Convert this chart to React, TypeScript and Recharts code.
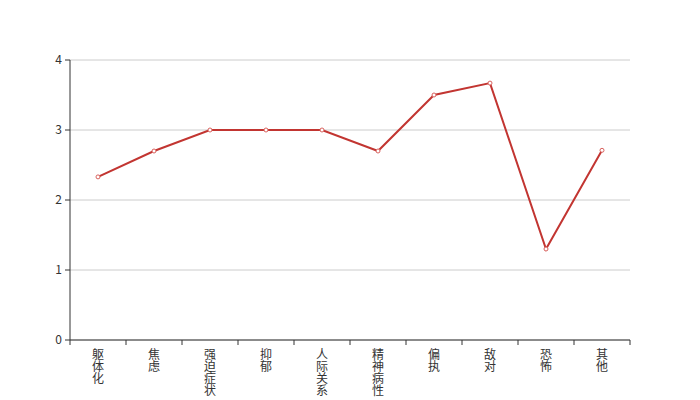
import { LineChart, Line, CartesianGrid, XAxis, YAxis } from "recharts";

const categories = ["躯体化", "焦虑", "强迫症状", "抑郁", "人际关系", "精神病性", "偏执", "敌对", "恐怖", "其他"];
const scores = [2.33, 2.7, 3.0, 3.0, 3.0, 2.7, 3.5, 3.67, 1.3, 2.71];
const yTicks = [0, 1, 2, 3, 4];

const data = categories.map((name, i) => ({ name, value: scores[i] }));

const FONT = "'Noto Sans CJK SC', 'Noto Sans', sans-serif";

const VerticalTick = (props: any) => {
  const { x, y, payload, index } = props;
  const half = payload && payload.offset ? payload.offset : 28;
  const last = index === categories.length - 1;
  return (
    <g>
      <line x1={x - half} y1={y} x2={x - half} y2={y + 5} stroke="#333" />
      {last && <line x1={x + half} y1={y} x2={x + half} y2={y + 5} stroke="#333" />}
      <text
        x={x}
        y={y + 8}
        fill="#333"
        fontSize={12}
        fontFamily={FONT}
        style={{ writingMode: "vertical-rl" }}
      >
        {payload.value}
      </text>
    </g>
  );
};

const App = () => {
  return (
    <div style={{ position: "absolute", left: 0, top: 0, width: 700, height: 400, background: "#fff" }}>
      <LineChart width={700} height={400} data={data} margin={{ top: 60, right: 70, bottom: 0, left: 0 }}>
        <CartesianGrid stroke="#ccc" vertical={false} />
        <XAxis
          dataKey="name"
          scale="band"
          interval={0}
          tickSize={0}
          tickMargin={0}
          height={60}
          axisLine={{ stroke: "#333" }}
          tickLine={false}
          tick={<VerticalTick />}
        />
        <YAxis
          domain={[0, 4]}
          ticks={yTicks}
          width={70}
          tickSize={5}
          tickMargin={3}
          axisLine={{ stroke: "#333" }}
          tickLine={{ stroke: "#333" }}
          tick={{ fill: "#333", fontSize: 12, fontFamily: FONT }}
        />
        <Line
          type="linear"
          dataKey="value"
          stroke="#c23531"
          strokeWidth={2}
          dot={{ r: 2, fill: "#fff", stroke: "#d9625e", strokeWidth: 1 }}
          activeDot={false}
          isAnimationActive={false}
        />
      </LineChart>
    </div>
  );
};

export default App;
